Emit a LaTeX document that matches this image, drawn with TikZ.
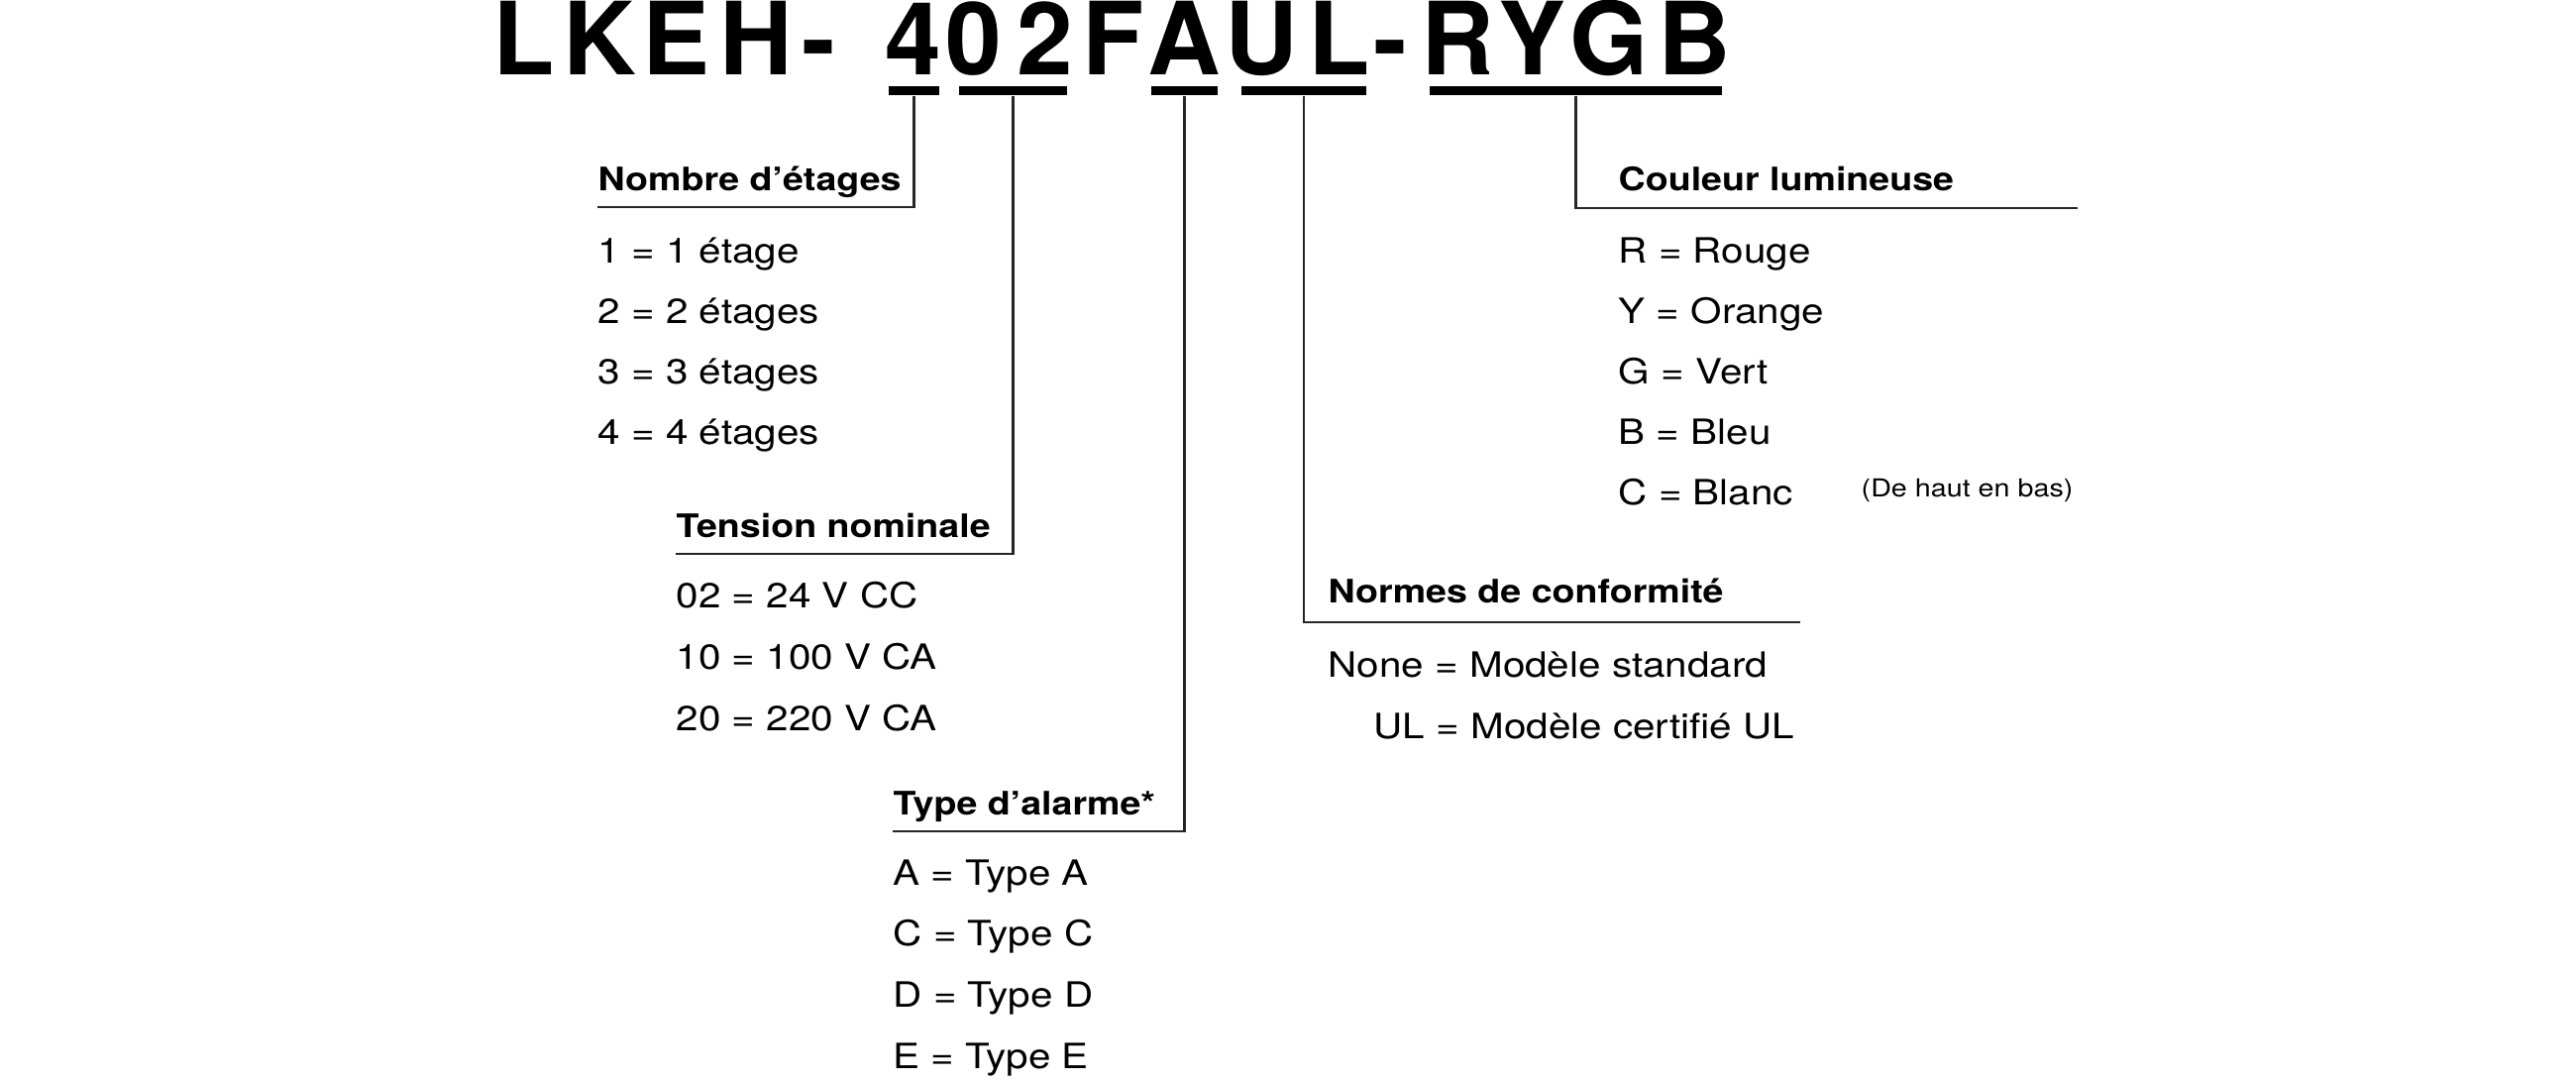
\documentclass[tikz,border=0pt]{standalone}
\usepackage{fontspec}
\setmainfont{TeX Gyre Heros}[FakeStretch=1.15]
\newfontfamily\codefont{TeX Gyre Heros}
\usetikzlibrary{positioning}

\begin{document}
\begin{tikzpicture}[
  code/.style={anchor=base west, inner sep=0, font=\codefont\bfseries\fontsize{29pt}{29pt}\selectfont},
  bar/.style={fill=black, inner sep=0, minimum height=0.09cm},
  head/.style={anchor=base west, inner sep=0, text depth=0.165cm, font=\bfseries\fontsize{9.3pt}{11pt}\selectfont},
  item/.style={anchor=base west, inner sep=0, font=\fontsize{10pt}{12pt}\selectfont},
  note/.style={anchor=base west, inner sep=0, font=\fontsize{7.1pt}{8.5pt}\selectfont},
  link/.style={draw=black!85, line width=0.6pt}]

\useasboundingbox (0,0) rectangle (26,-10.9);

% Model code, letter by letter
\foreach \c/\x [count=\i] in {L/4.97, K/5.68, E/6.48, H/7.26, -/8.09, 4/8.93, 0/9.54, 2/10.26,
    F/10.92, A/11.58, U/12.36, L/13.20, -/13.86, R/14.34, Y/15.12, G/15.84, B/16.73}
  \node[code] (c\i) at (\x,-0.75) {\c};

% Bars under the code fields
\node[bar, minimum width=0.51cm] (b1) at (9.225,-0.915) {};
\node[bar, minimum width=1.09cm] (b2) at (10.225,-0.915) {};
\node[bar, minimum width=0.67cm] (b3) at (11.955,-0.915) {};
\node[bar, minimum width=1.26cm] (b4) at (13.16,-0.915) {};
\node[bar, minimum width=2.95cm] (b5) at (15.905,-0.915) {};

% Headings
\node[head] (nombre) at (6.03,-1.92) {Nombre d’étages};
\node[head] (tension) at (6.82,-5.42) {Tension nominale};
\node[head] (alarme) at (9.01,-8.22) {Type d’alarme*};
\node[head] (normes) at (13.40,-6.08) {Normes de conformité};
\node[head] (couleur) at (16.33,-1.92) {Couleur lumineuse};

% Leader lines
\coordinate (normes end) at (18.17,-6.28);
\coordinate (couleur end) at (20.97,-2.10);
\draw[link] (b1.south) |- (nombre.south west);
\draw[link] (b2.south) |- (tension.south west);
\draw[link] (b3.south) |- (alarme.south west);
\draw[link] (b4.south) |- (normes end);
\draw[link] (b5.south) |- (couleur end);

% Option lists
\foreach \t [count=\i from 0] in {1 = 1 étage, 2 = 2 étages, 3 = 3 étages, 4 = 4 étages}
  \node[item] (nb\i) at (6.03,-2.65-0.61*\i) {\t};
\foreach \t [count=\i from 0] in {02 = 24 V CC, 10 = 100 V CA, 20 = 220 V CA}
  \node[item] (ten\i) at (6.82,-6.13-0.62*\i) {\t};
\foreach \t [count=\i from 0] in {A = Type A, C = Type C, D = Type D, E = Type E}
  \node[item] (typ\i) at (9.01,-8.93-0.617*\i) {\t};
\foreach \t [count=\i from 0] in {R = Rouge, Y = Orange, G = Vert, B = Bleu, C = Blanc}
  \node[item] (col\i) at (16.33,-2.65-0.61*\i) {\t};
\node[note] (ordre) at (18.78,-5.01) {(De haut en bas)};

\node[item] (none) at (13.40,-6.83) {None = Modèle standard};
\node[item] (ul) at (13.86,-7.45) {UL = Modèle certifié UL};

\end{tikzpicture}
\end{document}
